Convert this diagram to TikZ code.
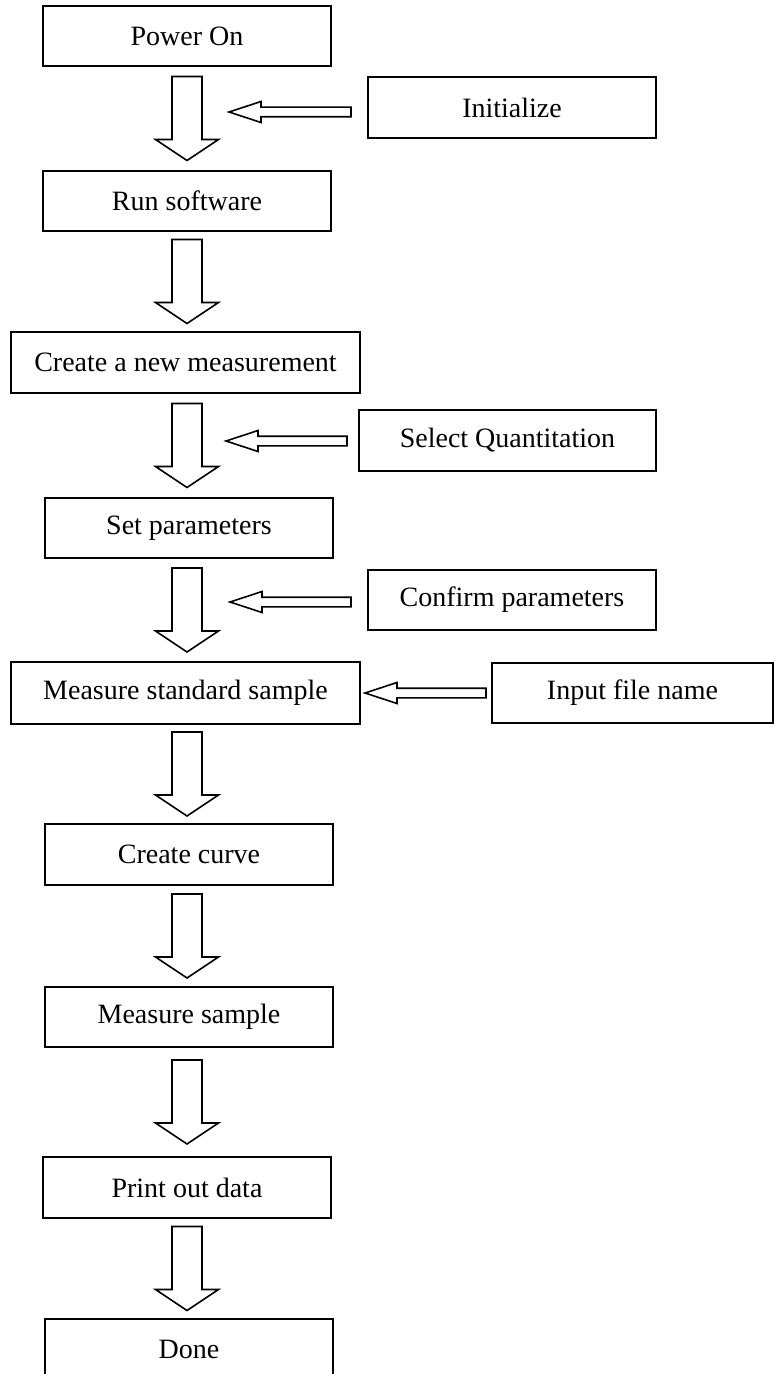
\documentclass[tikz,border=0pt]{standalone}
\usepackage{fontspec}
\setmainfont{Liberation Serif}
\usetikzlibrary{calc}

\tikzset{
  stepbox/.style={draw,line width=1pt,inner sep=0pt,minimum width=144pt,
    minimum height=30pt,font=\fontsize{14}{16}\selectfont},
  widebox/.style={stepbox,minimum width=174.5pt},
  blockarrow/.style={draw,line width=.8pt,fill=white,line join=miter}
}

% hollow arrow straight down, centred between two boxes
\newcommand{\fatdown}[2]{%
  \draw[blockarrow] let \p1=($(#1.south)!.5!(#2.north)$), \p2=(axis) in
    (\x2-7.5pt,\y1+21pt) -- (\x2+7.5pt,\y1+21pt) -- (\x2+7.5pt,\y1-10.5pt)
    -- (\x2+15.75pt,\y1-10.5pt) -- (\x2,\y1-21pt) -- (\x2-15.75pt,\y1-10.5pt)
    -- (\x2-7.5pt,\y1-10.5pt) -- cycle;}
% hollow arrow pointing left, tail at #1, tip at #2
\newcommand{\fatleft}[2]{%
  \draw[blockarrow] let \p1=(#1), \p2=(#2) in
    (\x1,\y2+2.4pt) -- (\x2+16pt,\y2+2.4pt) -- (\x2+16pt,\y2+5.25pt)
    -- (\x2,\y2) -- (\x2+16pt,\y2-5.25pt) -- (\x2+16pt,\y2-2.4pt)
    -- (\x1,\y2-2.4pt) -- cycle;}

\begin{document}
\begin{tikzpicture}[x=.5pt,y=-.5pt]
  \useasboundingbox (0,0) rectangle (774,1374);
  \coordinate (axis) at (187,0);

  % main column
  \node[stepbox] (power) at (187,36) {Power On};
  \node[stepbox] (run) at (187,201) {Run software};
  \node[widebox, minimum height=30.5pt] (create) at (185.5,362.5) {Create a new measurement};
  \node[stepbox] (setpar) at (189,528) {Set parameters};
  \node[widebox, minimum height=31pt] (standard) at (185.5,693) {Measure standard sample};
  \node[stepbox, minimum height=30.5pt] (curve) at (189,854.5) {Create curve};
  \node[stepbox] (sample) at (189,1017) {Measure sample};
  \node[stepbox, minimum height=30.5pt] (print) at (187,1187.5) {Print out data};
  \node[stepbox, minimum height=30.5pt] (done) at (189,1349.5) {Done};

  % side inputs
  \node[stepbox, minimum height=30.5pt] (init) at (512,107.5) {Initialize};
  \node[stepbox, minimum width=148.5pt, minimum height=30.5pt] (quant) at (507.5,440.5) {Select Quantitation};
  \node[stepbox] (confirm) at (512,600) {Confirm parameters};
  \node[stepbox, minimum width=140.5pt] (input) at (632.5,693) {Input file name};

  \coordinate (initTip) at (229,112);
  \coordinate (quantTip) at (226,441);
  \coordinate (confTip) at (230,602);

  \fatdown{power}{run}
  \fatdown{run}{create}
  \fatdown{create}{setpar}
  \fatdown{setpar}{standard}
  \fatdown{standard}{curve}
  \fatdown{curve}{sample}
  \fatdown{sample}{print}
  \fatdown{print}{done}

  \fatleft{$(init.west)+(-8pt,0)$}{initTip}
  \fatleft{$(quant.west)+(-5.5pt,0)$}{quantTip}
  \fatleft{$(confirm.west)+(-8pt,0)$}{confTip}
  \fatleft{$(input.west)+(-2.5pt,0)$}{$(standard.east)+(2pt,0)$}
\end{tikzpicture}
\end{document}
